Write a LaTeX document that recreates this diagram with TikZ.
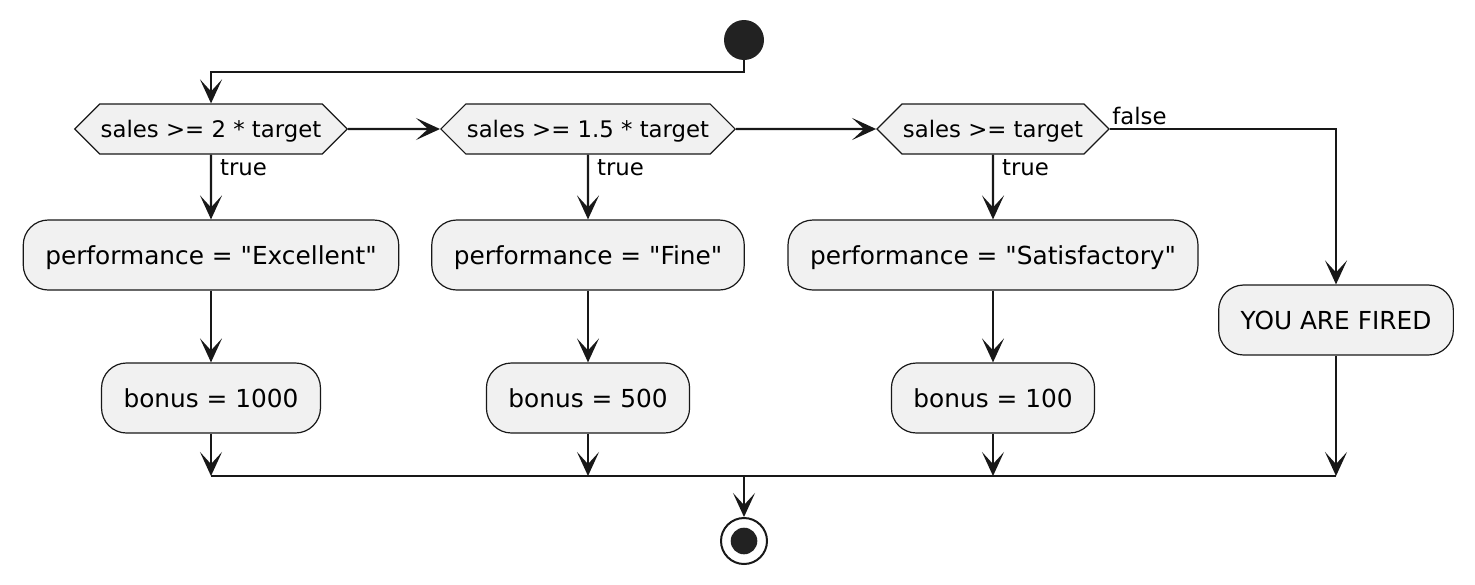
\documentclass[tikz,border=0pt]{standalone}
\usepackage{fontspec}
\setmainfont{DejaVu Sans}[Ligatures=TeXOff]
\usetikzlibrary{shapes.symbols, arrows.meta}
\definecolor{boxfill}{HTML}{F1F1F1}
\definecolor{ink}{HTML}{181818}
\definecolor{dot}{HTML}{222222}
\tikzset{
  action/.style={rectangle, rounded corners=12.5pt, draw=ink, line width=0.6pt, fill=boxfill,
    minimum height=35pt, inner xsep=11pt, text height=9pt, text depth=0pt,
    font=\fontsize{12.4}{15}\selectfont},
  decision/.style={signal, signal to=west and east, draw=ink, line width=0.6pt, fill=boxfill,
    minimum height=25pt, inner xsep=0.5pt, text height=8.3pt, text depth=0pt,
    font=\fontsize{11.4}{14}\selectfont},
  vstart/.style={circle, fill=dot, minimum size=20pt, inner sep=0pt},
  vstop/.style={circle, draw=ink, line width=1pt, fill=white, minimum size=23pt, inner sep=0pt,
    path picture={\fill[dot] (path picture bounding box.center) circle (6.65pt);}},
  flow/.style={draw=ink, line width=1.15pt, -{Stealth[length=12pt, width=11pt, inset=6pt]}},
  guard/.style={font=\fontsize{11.4}{14}\selectfont, inner sep=1pt}
}
\newcommand{\colA}{211}
\newcommand{\colB}{588}
\newcommand{\colC}{993}
\newcommand{\colD}{1336}

\begin{document}
\begin{tikzpicture}[x=0.5pt, y=-0.5pt]
\useasboundingbox (0,0) rectangle (1475,584);

% nodes
\node[vstart] (start) at (744, 40) {};
\node[decision] (d1) at (\colA, 129) {sales >= 2 * target};
\node[decision] (d2) at (\colB, 129) {sales >= 1.5 * target};
\node[decision] (d3) at (\colC, 129) {sales >= target};
\node[action] (a1) at (\colA, 255) {performance = "Excellent"};
\node[action] (b1) at (\colA, 398) {bonus = 1000};
\node[action] (a2) at (\colB, 255) {performance = "Fine"};
\node[action] (b2) at (\colB, 398) {bonus = 500};
\node[action] (a3) at (\colC, 255) {performance = "Satisfactory"};
\node[action] (b3) at (\colC, 398) {bonus = 100};
\node[action] (fired) at (\colD, 320) {YOU ARE FIRED};
\node[vstop] (stop) at (744, 541) {};

% merge points
\coordinate (j0) at (744, 72);
\coordinate (m1) at (\colA, 476);
\coordinate (m2) at (\colB, 476);
\coordinate (m3) at (\colC, 476);
\coordinate (m4) at (\colD, 476);
\coordinate (mc) at (744, 476);

% edges
\draw[flow] (start) -- (j0) -| (d1);
\draw[flow] (d1) -- (d2);
\draw[flow] (d2) -- (d3);
\draw[flow] (d1) -- node[guard, pos=0, anchor=north west, xshift=3pt, yshift=-1pt] (t1) {true} (a1);
\draw[flow] (d2) -- node[guard, pos=0, anchor=north west, xshift=3pt, yshift=-1pt] (t2) {true} (a2);
\draw[flow] (d3) -- node[guard, pos=0, anchor=north west, xshift=3pt, yshift=-1pt] (t3) {true} (a3);
\draw[flow] (d3.east) -| (fired);
\draw[flow] (a1) -- (b1);
\draw[flow] (a2) -- (b2);
\draw[flow] (a3) -- (b3);
\draw[flow] (b1) -- (m1);
\draw[flow] (b2) -- (m2);
\draw[flow] (b3) -- (m3);
\draw[flow] (fired) -- (m4);
\draw[draw=ink, line width=1.15pt] (m1) -- (m4);
\draw[flow] (mc) -- (stop);

% labels
\node[guard, anchor=south west, yshift=1pt] (f3) at (d3.east) {false};
\end{tikzpicture}
\end{document}
